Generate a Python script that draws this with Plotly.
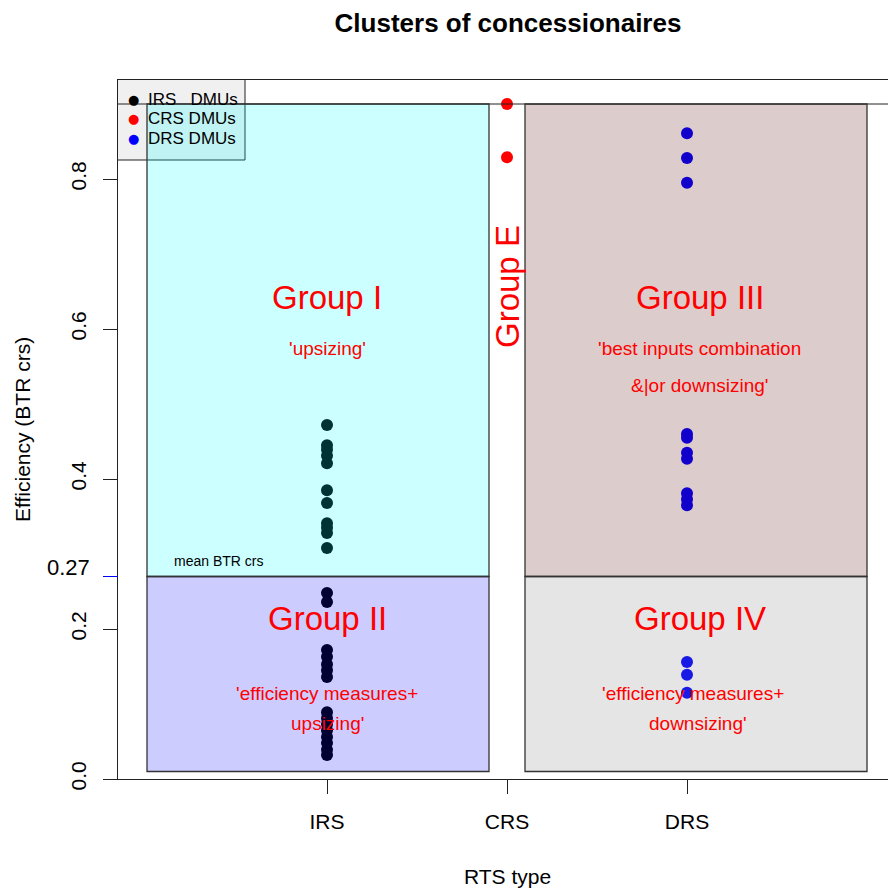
import plotly.graph_objects as go

# ---------------- data ----------------
categories = ["IRS", "CRS", "DRS"]
cat_pos = [1, 2, 3]

irs_eff = [0.472, 0.445, 0.439, 0.431, 0.421, 0.385, 0.368, 0.341, 0.335, 0.328, 0.308,
           0.248, 0.236, 0.172, 0.163, 0.153, 0.145, 0.136,
           0.089, 0.081, 0.073, 0.065, 0.056, 0.048, 0.039, 0.032]
crs_eff = [0.900, 0.829]
drs_eff = [0.861, 0.828, 0.795, 0.460, 0.455, 0.435, 0.427, 0.381, 0.373, 0.365,
           0.156, 0.139, 0.115]

mean_btr = 0.27
top_line = 0.9
rect_bottom = 0.01
y_ticks = [0.0, 0.2, 0.4, 0.6, 0.8]
y_tick_text = ["0.0", "0.2", "0.4", "0.6", "0.8"]

legend_labels = ["IRS\u00a0\u00a0\u00a0DMUs", "CRS DMUs", "DRS DMUs"]
legend_colors = ["black", "red", "blue"]

# group rectangles: (x0, x1, y0, y1, fill)
groups = [
    (0.0, 1.9, mean_btr, top_line, "rgba(0,255,255,0.2)"),
    (0.0, 1.9, rect_bottom, mean_btr, "rgba(0,0,255,0.2)"),
    (2.1, 4.0, mean_btr, top_line, "rgba(85,0,0,0.2)"),
    (2.1, 4.0, rect_bottom, mean_btr, "rgba(125,125,125,0.2)"),
]

FONT = "Liberation Sans, Arial, Helvetica, sans-serif"

# pixel helpers (layout geometry)
W, H = 888, 888
L, R, T, B = 118, 0, 80, 109
XPX1, XSCALE = 327.0, 180.0
YPX0, YSCALE = 779.0, 750.0


def px2x(px):
    return 1 + (px - XPX1) / XSCALE


def py2y(py):
    return (YPX0 - py) / YSCALE


x_range = [px2x(L), px2x(W)]
y_range = [0.0, py2y(T)]

fig = go.Figure()

fig.add_trace(go.Scatter(x=[cat_pos[0]] * len(irs_eff), y=irs_eff, mode="markers",
                         marker=dict(color="black", size=12), showlegend=False))
fig.add_trace(go.Scatter(x=[cat_pos[1]] * len(crs_eff), y=crs_eff, mode="markers",
                         marker=dict(color="red", size=12), showlegend=False))
fig.add_trace(go.Scatter(x=[cat_pos[2]] * len(drs_eff), y=drs_eff, mode="markers",
                         marker=dict(color="blue", size=12), showlegend=False))

shapes = []
# legend box
shapes.append(dict(type="rect", xref="x", yref="y", x0=px2x(117), x1=px2x(245),
                   y0=py2y(160), y1=py2y(79), fillcolor="#f0f0f0",
                   line=dict(color="#222", width=1), layer="above"))
# horizontal line at top of groups
shapes.append(dict(type="line", xref="paper", yref="y", x0=0, x1=1, y0=top_line, y1=top_line,
                   line=dict(color="#222", width=1), layer="above"))
for x0, x1, y0, y1, fc in groups:
    shapes.append(dict(type="rect", xref="x", yref="y", x0=x0, x1=x1, y0=y0, y1=y1,
                       fillcolor=fc, line=dict(color="#333", width=1.3), layer="above"))
# blue tick for the mean
shapes.append(dict(type="line", xref="paper", yref="y", x0=-15 / (W - L), x1=0,
                   y0=mean_btr, y1=mean_btr, line=dict(color="blue", width=1), layer="above"))

ann = []
red = "#ff0000"
xl = 1.0
xr = 3.07
big, small = 33, 19
ann += [
    dict(x=xl, y=py2y(297), text="Group I", font=dict(size=big, color=red)),
    dict(x=xl, y=py2y(348), text="'upsizing'", font=dict(size=small, color=red)),
    dict(x=xl, y=py2y(618), text="Group II", font=dict(size=big, color=red)),
    dict(x=xl, y=py2y(693), text="'efficiency measures+", font=dict(size=small, color=red)),
    dict(x=xl, y=py2y(723), text="upsizing'", font=dict(size=small, color=red)),
    dict(x=xr, y=py2y(297), text="Group III", font=dict(size=big, color=red)),
    dict(x=xr, y=py2y(348), text="'best inputs combination", font=dict(size=small, color=red)),
    dict(x=xr, y=py2y(385), text="&|or downsizing'", font=dict(size=small, color=red)),
    dict(x=xr, y=py2y(618), text="Group IV", font=dict(size=big, color=red)),
    dict(x=px2x(693), y=py2y(693), text="'efficiency measures+", font=dict(size=small, color=red)),
    dict(x=px2x(698), y=py2y(723), text="downsizing'", font=dict(size=small, color=red)),
    dict(x=cat_pos[1], y=py2y(287), text="Group E", textangle=-90, font=dict(size=big, color=red)),
    dict(x=px2x(218), y=py2y(561), text="mean BTR crs", font=dict(size=14, color="black")),
]
for a in ann:
    a.update(xref="x", yref="y", showarrow=False, xanchor="center", yanchor="middle")

# legend entries
for i, (lab, col) in enumerate(zip(legend_labels, legend_colors)):
    yy = py2y([99, 118, 138][i])
    ann.append(dict(x=px2x(133), y=yy, xref="x", yref="y", text="\u25cf", showarrow=False,
                    font=dict(size=13, color=col, family="DejaVu Sans"), xanchor="center",
                    yanchor="middle"))
    ann.append(dict(x=px2x(146), y=yy, xref="x", yref="y", text=lab, showarrow=False,
                    font=dict(size=17, color="black", family=FONT), xanchor="left", yanchor="middle"))

# 0.27 tick label
ann.append(dict(x=-26 / (W - L), y=py2y(567), xref="paper", yref="y", text="0.27",
                showarrow=False, font=dict(size=22, color="black"), xanchor="right",
                yanchor="middle"))
# axis titles
ann.append(dict(x=0.5, y=-97 / (H - T - B), xref="paper", yref="paper", text="RTS type",
                showarrow=False, font=dict(size=21, color="black"), xanchor="center",
                yanchor="middle", xshift=(507 - (L + (W - L) / 2))))
ann.append(dict(x=-96 / (W - L), y=py2y(430) / y_range[1], xref="paper", yref="paper",
                text="Efficiency (BTR crs)", textangle=-90, showarrow=False,
                font=dict(size=21, color="black"), xanchor="center", yanchor="middle"))

fig.update_layout(
    width=W, height=H,
    margin=dict(l=L, r=R, t=T, b=B, pad=0),
    paper_bgcolor="white", plot_bgcolor="white",
    font=dict(family=FONT, color="black"),
    title=dict(text="<b>Clusters of concessionaires</b>", x=508 / W, xanchor="center",
               y=1 - 23 / H, yanchor="middle", font=dict(size=26, family=FONT)),
    shapes=shapes, annotations=ann, showlegend=False,
)
fig.update_xaxes(range=x_range, tickvals=cat_pos, ticktext=categories, showgrid=False,
                 zeroline=False, showline=True, mirror=True, linecolor="#222", linewidth=1,
                 ticks="outside", ticklen=14, tickcolor="#222", tickfont=dict(size=21),
                 ticklabelstandoff=10)
fig.update_yaxes(range=y_range, tickvals=y_ticks, ticktext=y_tick_text, showgrid=False,
                 zeroline=False, showline=True, mirror=False, linecolor="#222", linewidth=1,
                 ticks="outside", ticklen=14, tickcolor="#222", tickfont=dict(size=21),
                 tickangle=-90, ticklabelstandoff=9)

fig.write_html("out.html")
